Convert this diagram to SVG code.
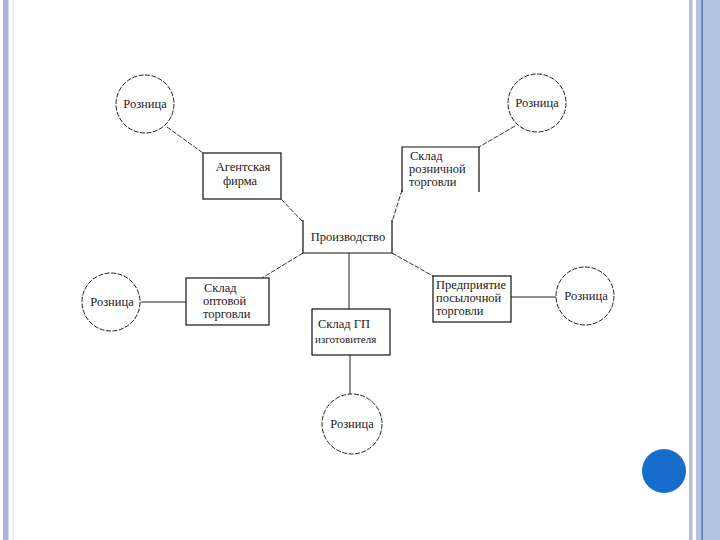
<svg xmlns="http://www.w3.org/2000/svg" width="720" height="540" viewBox="0 0 720 540">
<style>
.c{fill:#fff;stroke:#222;stroke-width:1;stroke-dasharray:5 1.5}
.b{fill:#fff;stroke:#111;stroke-width:1.2}
.o{fill:none;stroke:#111;stroke-width:1.2}
.l{fill:none;stroke:#222;stroke-width:1}
.d{fill:none;stroke:#333;stroke-width:1;stroke-dasharray:5 1.5}
text{font-family:"Liberation Serif","Times New Roman",serif;font-size:12.5px;fill:#222}
.m{text-anchor:middle}
</style>
<rect width="720" height="540" fill="#fff"/>
<g id="frame">
<rect x="3" y="0" width="5.5" height="540" fill="#aab4dc"/>
<rect x="12.5" y="0" width="1.5" height="540" fill="#f2e8f4"/>
<rect x="689" y="0" width="3.5" height="540" fill="#b4c0d8"/>
<rect x="696" y="0" width="24" height="540" fill="#b2c2e0"/>
<rect x="701.5" y="0" width="1.2" height="540" fill="#3d6cb4"/>
<circle cx="664" cy="471" r="22" fill="#156ccb"/>
</g>
<g id="connectors">
<line class="d" x1="167" y1="127" x2="203" y2="153"/>
<line class="d" x1="281" y1="199" x2="303" y2="222"/>
<line class="d" x1="515" y1="126" x2="479" y2="147"/>
<line class="d" x1="402" y1="190" x2="392" y2="222"/>
<line class="d" x1="303" y1="253" x2="262" y2="278"/>
<line class="d" x1="392" y1="253" x2="433" y2="276"/>
<line class="l" x1="349" y1="253" x2="349" y2="309"/>
<line class="l" x1="141" y1="302" x2="186" y2="302"/>
<line class="l" x1="511" y1="297" x2="556" y2="297"/>
<line class="l" x1="350" y1="355" x2="350" y2="394"/>
</g>
<g id="proizvodstvo">
<path class="o" d="M303,220 V253 H392 V220"/>
<text class="m" x="348" y="241">Производство</text>
</g>
<g id="agent">
<rect class="b" x="203" y="153" width="78" height="46"/>
<text class="m" x="243" y="171">Агентская</text>
<text class="m" x="240" y="185">фирма</text>
</g>
<g id="sklad-rozn">
<path class="o" d="M402,192 V147 H479 V192"/>
<text x="410" y="160">Склад</text>
<text x="409" y="173">розничной</text>
<text x="409" y="186">торговли</text>
</g>
<g id="sklad-opt">
<rect class="b" x="186" y="278" width="83" height="47"/>
<text x="204" y="292">Склад</text>
<text x="203" y="305">оптовой</text>
<text x="203" y="318">торговли</text>
</g>
<g id="predpr">
<rect class="b" x="433" y="276" width="78" height="46"/>
<text x="436" y="289">Предприятие</text>
<text x="436" y="302">посылочной</text>
<text x="436" y="315">торговли</text>
</g>
<g id="sklad-gp">
<rect class="b" x="312" y="309" width="78" height="46"/>
<text x="318" y="328">Склад ГП</text>
<text x="315" y="343" style="font-size:11px">изготовителя</text>
</g>
<g id="rozn1">
<circle class="c" cx="145" cy="104" r="29"/>
<text class="m" x="145" y="108">Розница</text>
</g>
<g id="rozn2">
<circle class="c" cx="537" cy="103" r="29"/>
<text class="m" x="537" y="107">Розница</text>
</g>
<g id="rozn3">
<circle class="c" cx="111" cy="302" r="29"/>
<text class="m" x="112" y="306">Розница</text>
</g>
<g id="rozn4">
<circle class="c" cx="585" cy="296" r="29"/>
<text class="m" x="586" y="300">Розница</text>
</g>
<g id="rozn5">
<circle class="c" cx="352" cy="424" r="30"/>
<text class="m" x="352" y="428">Розница</text>
</g>
</svg>
